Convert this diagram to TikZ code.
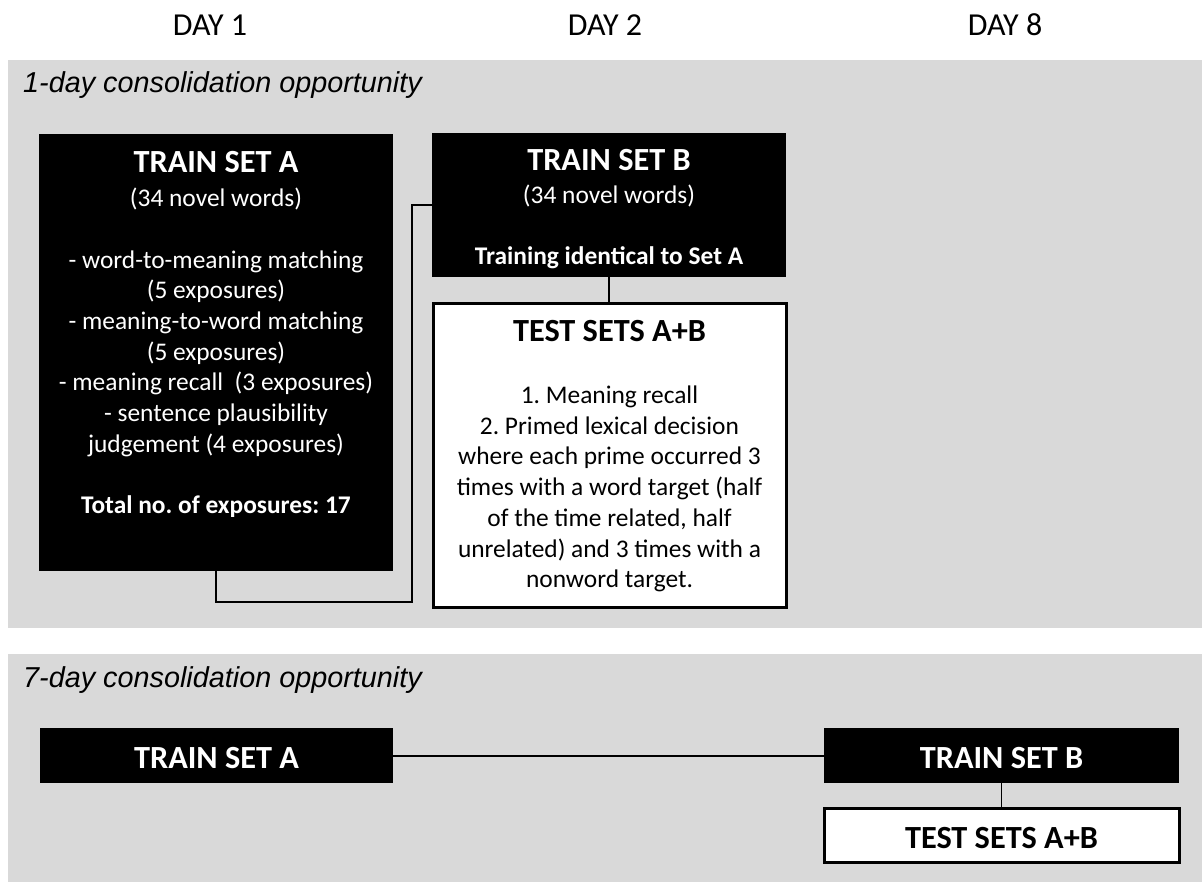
\documentclass[tikz,border=0pt]{standalone}
\usepackage{fontspec}
\setmainfont{Carlito}
\newfontfamily\arialfont{Liberation Sans}
\definecolor{panelgray}{HTML}{D9D9D9}
\newcommand\ttlfont{\fontsize{32.3}{38}\bfseries\selectfont}
\newcommand\bodyfont{\fontsize{25.4}{30.7}\selectfont}
\newcommand\dayfont{\fontsize{32}{36}\selectfont}
\newcommand\panelfont{\arialfont\itshape\fontsize{28.8}{34}\selectfont}
\frenchspacing
\begin{document}
\frenchspacing
\begin{tikzpicture}[x=1pt,y=-1pt,
  blackbox/.style={fill=black, draw=none, anchor=north west, inner sep=0pt, outer sep=0pt},
  testbox/.style={fill=white, draw=black, line width=3pt, anchor=north west, inner sep=0pt, outer sep=0pt},
  conn/.style={draw=black, line width=1.6pt},
  txt/.style={inner sep=0pt, align=center},
  wtxt/.style={txt, text=white},
  daylbl/.style={inner sep=0pt, font=\dayfont},
  panellbl/.style={inner sep=0pt, anchor=west, font=\panelfont}]
\useasboundingbox (0,0) rectangle (1202,882);
% panels
\fill[panelgray] (8,60) rectangle (1202,628);
\fill[panelgray] (8,654) rectangle (1202,882);
% day headers
\node[daylbl] (d1) at (210,25) {DAY 1};
\node[daylbl] (d2) at (605,25) {DAY 2};
\node[daylbl] (d8) at (1005,25) {DAY 8};
% panel labels
\node[panellbl] (p1) at (23,85) {1-day consolidation opportunity};
\node[panellbl] (p7) at (23,680) {7-day consolidation opportunity};
% ---- 1-day panel
\node[blackbox, minimum width=354pt, minimum height=437pt] (trainA) at (39,134) {};
\node[wtxt, font=\ttlfont] (trainAt) at (216,162) {TRAIN SET A};
\node[wtxt, font=\bodyfont] (trainAb) at (216,353) {(34 novel words)\\[30.7pt]
- word-to-meaning matching\\ (5 exposures)\\ - meaning-to-word matching\\ (5 exposures)\\
- meaning recall\ \ (3 exposures)\\ - sentence plausibility\\ judgement (4 exposures)\\[30.7pt]
\textbf{Total no. of exposures: 17}};
\node[blackbox, minimum width=354pt, minimum height=144pt] (trainB) at (432,133) {};
\node[wtxt, font=\ttlfont] (trainBt) at (609,160) {TRAIN SET B};
\node[wtxt, font=\bodyfont] (trainBb) at (609,227) {(34 novel words)\\[30.7pt]
\textbf{Training identical to Set A}};
\node[testbox, minimum width=353pt, minimum height=303pt] (testAB) at (433,304) {};
\node[txt, font=\ttlfont] (testABt) at (609.5,331) {TEST SETS A+B};
\node[txt, font=\bodyfont] (testABb) at (609.5,489) {1. Meaning recall\\ 2. Primed lexical decision\\
where each prime occurred 3\\ times with a word target (half\\ of the time related, half\\
unrelated) and 3 times with a\\ nonword target.};
\coordinate (c1) at (412,602);
\draw[conn] (trainA.south) |- (c1) |- (trainB.west);
\draw[conn] (trainB.south) -- (trainB.south |- testAB.north);
% ---- 7-day panel
\node[blackbox, minimum width=353pt, minimum height=55pt] (trainA2) at (40,728) {};
\node[wtxt, font=\ttlfont] (trainA2t) at (216.5,758) {TRAIN SET A};
\node[blackbox, minimum width=355pt, minimum height=55pt] (trainB2) at (824,728) {};
\node[wtxt, font=\ttlfont] (trainB2t) at (1001.5,758) {TRAIN SET B};
\node[testbox, minimum width=355pt, minimum height=54pt] (testAB2) at (824,808) {};
\node[txt, font=\ttlfont] (testAB2t) at (1001.5,838) {TEST SETS A+B};
\draw[conn, line width=2pt] (trainA2.east) -- (trainB2.west);
\draw[conn] (trainB2.south) -- (testAB2.north);
\end{tikzpicture}
\end{document}
